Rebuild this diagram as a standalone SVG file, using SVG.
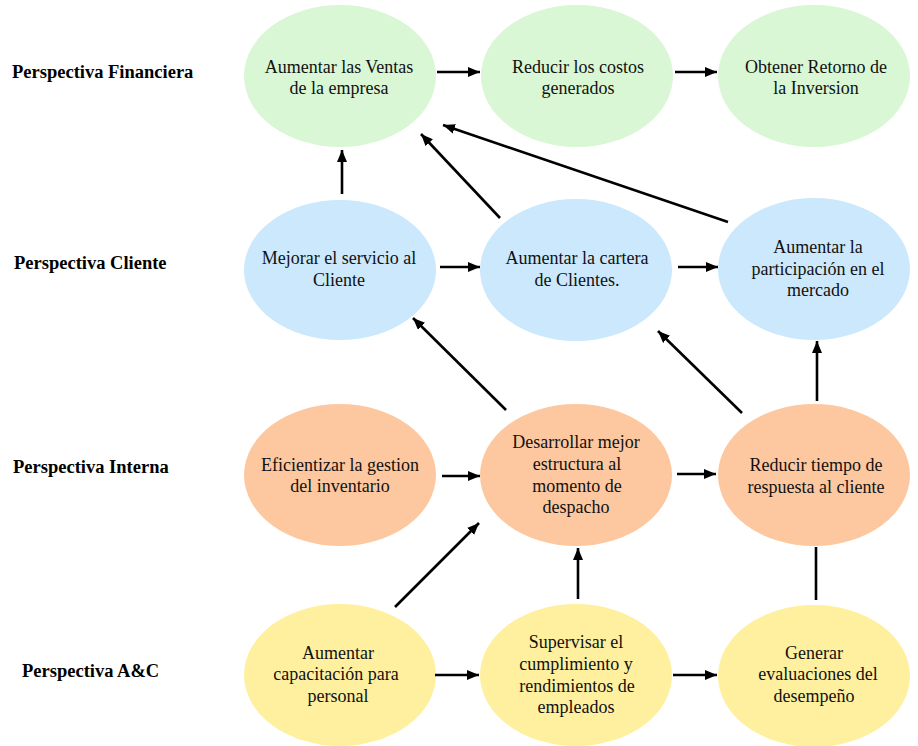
<svg xmlns="http://www.w3.org/2000/svg" width="918" height="746" viewBox="0 0 918 746">
<defs>
<marker id="ah" markerUnits="userSpaceOnUse" markerWidth="13" markerHeight="11" refX="12" refY="5" orient="auto">
<path d="M0,0 L12,5 L0,10 z" fill="#000"/>
</marker>
<style>
.t{font-family:"Liberation Serif","Times New Roman",serif;font-size:18px;fill:#111;text-anchor:middle}
.lbl{font-family:"Liberation Serif","Times New Roman",serif;font-size:18.5px;font-weight:bold;fill:#000}
.g{fill:#d9f7d4}.b{fill:#cce8fc}.o{fill:#fdc8a0}.y{fill:#fff0a0}
.c line{stroke:#000;stroke-width:2.6;fill:none}
.c .a{marker-end:url(#ah)}
</style>
</defs>
<rect width="918" height="746" fill="#fff"/>
<g id="labels">
<text class="lbl" x="12" y="78">Perspectiva Financiera</text>
<text class="lbl" x="14" y="269">Perspectiva Cliente</text>
<text class="lbl" x="13" y="473">Perspectiva Interna</text>
<text class="lbl" x="22" y="677">Perspectiva A&amp;C</text>
</g>
<g id="n1"><ellipse class="g" cx="340" cy="76" rx="96" ry="71"/><text class="t" x="339" y="73">Aumentar las Ventas</text><text class="t" x="339" y="94">de la empresa</text></g>
<g id="n2"><ellipse class="g" cx="577" cy="76" rx="96" ry="71"/><text class="t" x="578" y="73">Reducir los costos</text><text class="t" x="578" y="94">generados</text></g>
<g id="n3"><ellipse class="g" cx="814" cy="76" rx="96" ry="71"/><text class="t" x="816" y="73">Obtener Retorno de</text><text class="t" x="816" y="94">la Inversion</text></g>
<g id="n4"><ellipse class="b" cx="340" cy="270" rx="96" ry="70"/><text class="t" x="339" y="264">Mejorar el servicio al</text><text class="t" x="339" y="286">Cliente</text></g>
<g id="n5"><ellipse class="b" cx="576" cy="270" rx="96" ry="71"/><text class="t" x="577" y="264">Aumentar la cartera</text><text class="t" x="577" y="286">de Clientes.</text></g>
<g id="n6"><ellipse class="b" cx="814" cy="269" rx="96" ry="71"/><text class="t" x="818" y="253">Aumentar la</text><text class="t" x="818" y="275">participación en el</text><text class="t" x="818" y="296">mercado</text></g>
<g id="n7"><ellipse class="o" cx="340" cy="475" rx="96" ry="71"/><text class="t" x="340" y="471">Eficientizar la gestion</text><text class="t" x="340" y="492">del inventario</text></g>
<g id="n8"><ellipse class="o" cx="576" cy="475" rx="96" ry="71"/><text class="t" x="576" y="448">Desarrollar mejor</text><text class="t" x="577" y="470">estructura al</text><text class="t" x="577" y="492">momento de</text><text class="t" x="576" y="513">despacho</text></g>
<g id="n9"><ellipse class="o" cx="814" cy="475" rx="96" ry="71"/><text class="t" x="816" y="471">Reducir tiempo de</text><text class="t" x="816" y="493">respuesta al cliente</text></g>
<g id="n10"><ellipse class="y" cx="340" cy="675" rx="96" ry="71"/><text class="t" x="338" y="659">Aumentar</text><text class="t" x="336" y="680">capacitación para</text><text class="t" x="338" y="702">personal</text></g>
<g id="n11"><ellipse class="y" cx="576" cy="675" rx="96" ry="71"/><text class="t" x="576" y="648">Supervisar el</text><text class="t" x="576" y="670">cumplimiento y</text><text class="t" x="577" y="692">rendimientos de</text><text class="t" x="576" y="713">empleados</text></g>
<g id="n12"><ellipse class="y" cx="814" cy="676" rx="96" ry="71"/><text class="t" x="814" y="659">Generar</text><text class="t" x="818" y="680">evaluaciones del</text><text class="t" x="814" y="702">desempeño</text></g>
<g id="connectors" class="c">
<line class="a" x1="437" y1="72" x2="480" y2="72"/>
<line class="a" x1="675" y1="72" x2="717" y2="72"/>
<line class="a" x1="342" y1="194" x2="342" y2="150"/>
<line class="a" x1="500" y1="218" x2="421" y2="134"/>
<line class="a" x1="728" y1="222" x2="443" y2="125"/>
<line class="a" x1="440" y1="267" x2="480" y2="267"/>
<line class="a" x1="678" y1="267" x2="718" y2="267"/>
<line class="a" x1="817" y1="401" x2="817" y2="341"/>
<line class="a" x1="506" y1="410" x2="413" y2="318"/>
<line class="a" x1="742" y1="413" x2="658" y2="331"/>
<line class="a" x1="442" y1="476" x2="480" y2="476"/>
<line class="a" x1="677" y1="474" x2="716" y2="474"/>
<line class="a" x1="395" y1="607" x2="479" y2="523"/>
<line class="a" x1="578" y1="599" x2="578" y2="548"/>
<line x1="816" y1="547" x2="816" y2="600"/>
<line class="a" x1="435" y1="675" x2="479" y2="675"/>
<line class="a" x1="673" y1="675" x2="717" y2="675"/>
</g>
</svg>
